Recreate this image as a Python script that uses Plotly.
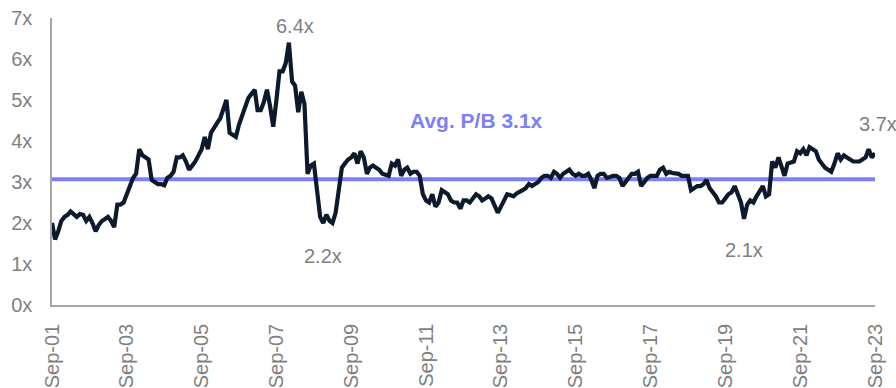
import pandas as pd
import plotly.graph_objects as go

# Monthly price-to-book multiple, Sep-2001 .. Sep-2023
start_month = "2001-09-01"
pb = [
    2.00, 1.60, 1.80, 2.05, 2.15, 2.20, 2.28, 2.22, 2.15, 2.22,
    2.20, 2.05, 2.15, 2.00, 1.80, 1.95, 2.05, 2.10, 2.15, 2.05,
    1.90, 2.45, 2.45, 2.50, 2.70, 2.85, 3.10, 3.20, 3.80, 3.65,
    3.60, 3.55, 3.05, 3.00, 2.95, 2.95, 2.92, 3.10, 3.15, 3.25,
    3.60, 3.60, 3.65, 3.50, 3.30, 3.40, 3.50, 3.65, 3.80, 4.10,
    3.80, 4.20, 4.35, 4.45, 4.55, 4.75, 5.00, 4.20, 4.15, 4.10,
    4.40, 4.60, 4.85, 5.05, 5.15, 5.25, 4.75, 4.75, 4.95, 5.25,
    4.85, 4.35, 5.00, 5.70, 5.70, 5.90, 6.40, 5.45, 5.35, 4.70,
    5.20, 4.90, 3.20, 3.40, 3.45, 2.80, 2.15, 2.00, 2.20, 2.05,
    2.00, 2.25, 2.80, 3.35, 3.45, 3.55, 3.60, 3.70, 3.45, 3.75,
    3.60, 3.20, 3.35, 3.40, 3.35, 3.30, 3.20, 3.17, 3.15, 3.45,
    3.40, 3.55, 3.15, 3.30, 3.35, 3.20, 3.25, 3.25, 3.15, 2.70,
    2.55, 2.50, 2.70, 2.40, 2.50, 2.80, 2.75, 2.70, 2.55, 2.50,
    2.50, 2.35, 2.55, 2.55, 2.50, 2.60, 2.70, 2.65, 2.55, 2.60,
    2.65, 2.60, 2.40, 2.25, 2.40, 2.55, 2.70, 2.68, 2.65, 2.72,
    2.75, 2.80, 2.85, 2.95, 2.90, 2.95, 3.00, 3.10, 3.15, 3.15,
    3.10, 3.25, 3.20, 3.10, 3.20, 3.25, 3.30, 3.20, 3.15, 3.20,
    3.15, 3.15, 3.20, 3.05, 2.85, 3.15, 3.20, 3.20, 3.10, 3.12,
    3.15, 3.15, 3.10, 2.90, 3.00, 3.10, 3.20, 3.20, 3.25, 2.90,
    3.00, 3.10, 3.15, 3.15, 3.15, 3.30, 3.35, 3.20, 3.25, 3.22,
    3.20, 3.20, 3.15, 3.15, 3.15, 2.80, 2.85, 2.90, 2.90, 2.95,
    3.05, 2.85, 2.75, 2.65, 2.50, 2.50, 2.60, 2.70, 2.75, 2.90,
    2.70, 2.50, 2.10, 2.45, 2.55, 2.50, 2.65, 2.80, 2.90, 2.65,
    2.70, 3.50, 3.35, 3.60, 3.40, 3.15, 3.45, 3.48, 3.50, 3.75,
    3.70, 3.80, 3.65, 3.85, 3.80, 3.75, 3.55, 3.45, 3.35, 3.30,
    3.25, 3.45, 3.70, 3.55, 3.65, 3.60, 3.55, 3.50, 3.50, 3.50,
    3.55, 3.60, 3.80, 3.60, 3.70,
]
avg_pb = 3.07

# Points carrying a value label: (month index, vertical offset px, horizontal offset px)
labelled = [(76, 17, 6), (88, -41, -3), (222, -31, 0), (264, 29, 3)]

tick_years = list(range(2001, 2024, 2))
tick_text = [f"Sep-{y % 100:02d}" for y in tick_years]

dates = pd.date_range(start_month, periods=len(pb), freq="MS")
tick_vals = [pd.Timestamp(f"{y}-09-01") for y in tick_years]

FONT = "Arial, Liberation Sans, sans-serif"
GREY = "#7f7f7f"
NAVY = "#0c1a2b"
AVG_COLOR = "#7b7ffc"

fig = go.Figure()
fig.add_trace(go.Scatter(
    x=dates, y=[avg_pb] * len(pb), mode="lines",
    line=dict(color=AVG_COLOR, width=4), hoverinfo="skip", showlegend=False,
))
fig.add_trace(go.Scatter(
    x=dates, y=pb, mode="lines",
    line=dict(color=NAVY, width=4.2), showlegend=False,
))

for idx, dy, dx in labelled:
    fig.add_annotation(
        x=dates[idx], y=pb[idx], text=f"{pb[idx]:.1f}x", showarrow=False,
        yshift=dy, xshift=dx, font=dict(family=FONT, size=20, color=GREY),
    )

fig.add_annotation(
    x=pd.Timestamp("2013-01-01"), y=4.5, text=f"<b>Avg. P/B {avg_pb:.1f}x</b>",
    showarrow=False, font=dict(family=FONT, size=21, color=AVG_COLOR),
)

fig.update_layout(
    width=896, height=388,
    margin=dict(l=52, r=21, t=18, b=83),
    paper_bgcolor="white", plot_bgcolor="white",
    font=dict(family=FONT, color=GREY),
)
fig.update_xaxes(
    range=[dates[0], dates[-1]], tickvals=tick_vals, ticktext=tick_text,
    tickangle=-90, tickfont=dict(size=20, color=GREY),
    showgrid=False, zeroline=False, showline=True, linecolor="#a6a6a6", linewidth=1.5,
    ticks="outside", ticklen=9, tickcolor="rgba(0,0,0,0)", automargin=False,
)
fig.update_yaxes(
    range=[0, 7], tickvals=list(range(0, 8)), ticktext=[f"{v}x" for v in range(0, 8)],
    tickfont=dict(size=20, color=GREY),
    showgrid=False, zeroline=False, showline=True, linecolor="#a6a6a6", linewidth=1.5,
    ticks="outside", ticklen=14, tickcolor="rgba(0,0,0,0)", automargin=False,
)

fig.write_html("out.html")
